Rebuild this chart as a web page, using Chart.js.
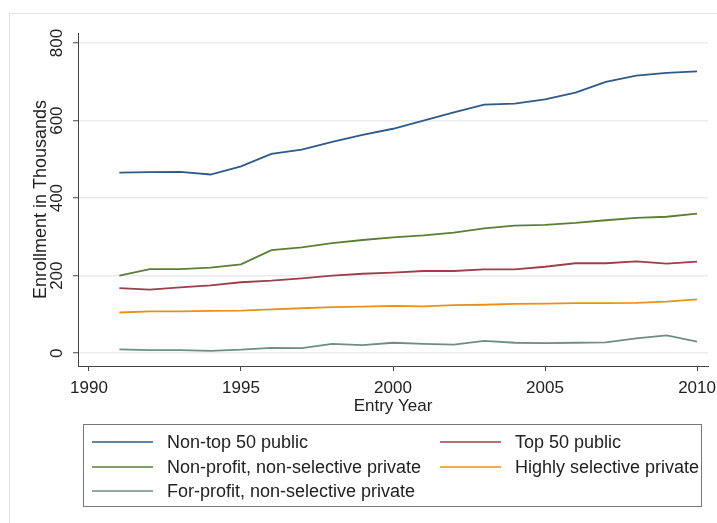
<!DOCTYPE html>
<html>
<head>
<meta charset="utf-8">
<script src="https://cdn.jsdelivr.net/npm/chart.js@4"></script>
<style>
  body { margin: 0; background: #fff; }
  #wrap { position: relative; width: 717px; height: 523px; }
  #legend {
    position: absolute; left: 83px; top: 424px; width: 617px; height: 81px;
    border: 1px solid #777; font-family: "Liberation Sans", Arial, sans-serif;
    font-size: 18px; color: #222;
  }
  .item { position: absolute; height: 22px; line-height: 22px; white-space: nowrap; }
  .item .swatch { position: absolute; top: 10px; width: 61px; height: 2px; }
  .item .label { position: absolute; }
</style>
</head>
<body>
<div id="wrap">
  <canvas id="grafico" width="717" height="523"></canvas>
  <div id="legend"></div>
</div>
<script>
const anos = [1991, 1992, 1993, 1994, 1995, 1996, 1997, 1998, 1999, 2000,
  2001, 2002, 2003, 2004, 2005, 2006, 2007, 2008, 2009, 2010];

const nonTop50Public = [466, 467, 468, 461, 482, 514, 525, 545, 563, 579,
  600, 621, 641, 644, 655, 672, 700, 716, 723, 727];
const top50Public = [168, 164, 170, 175, 183, 187, 193, 200, 205, 208,
  212, 212, 216, 216, 223, 232, 232, 237, 231, 236];
const nonProfitPrivate = [200, 217, 217, 221, 229, 266, 273, 284, 292, 299,
  304, 311, 322, 329, 331, 336, 343, 349, 352, 360];
const highlySelective = [105, 108, 108, 109, 110, 113, 116, 119, 120, 122,
  121, 124, 125, 127, 128, 129, 129, 130, 133, 139];
const forProfitPrivate = [10, 8, 8, 6, 9, 14, 13, 24, 21, 27,
  24, 22, 32, 27, 26, 27, 28, 38, 46, 30];

const nomesSeries = ["Non-top 50 public", "Top 50 public",
  "Non-profit, non-selective private", "Highly selective private",
  "For-profit, non-selective private"];
const coresSeries = ["#2d5a87", "#9b3f4a", "#5b7f35", "#e8901a", "#6e8e84"];
const ticksX = [1990, 1995, 2000, 2005, 2010];
const ticksY = [0, 200, 400, 600, 800];

const valores = [nonTop50Public, top50Public, nonProfitPrivate, highlySelective, forProfitPrivate];
const fonte = "'Liberation Sans', Arial, sans-serif";

const bordaExterna = {
  id: "bordaExterna",
  beforeDraw: (chart) => {
    const ctx = chart.ctx;
    ctx.save();
    ctx.strokeStyle = "#e4e4e4";
    ctx.lineWidth = 1;
    ctx.strokeRect(9.5, 13.5, 740, 540);
    ctx.restore();
  },
};

const gerarGrafico = () => {
  const ctx = document.getElementById("grafico").getContext("2d");
  new Chart(ctx, {
    type: "line",
    data: {
      datasets: valores.map((serie, i) => ({
        label: nomesSeries[i],
        data: serie.map((v, j) => ({ x: anos[j], y: v })),
        borderColor: coresSeries[i],
        borderWidth: 1.8,
        pointRadius: 0,
        tension: 0,
        fill: false,
      })),
    },
    options: {
      responsive: false,
      animation: false,
      devicePixelRatio: 1,
      layout: { padding: { left: 0, right: 9, top: 33, bottom: 97 } },
      plugins: { legend: { display: false }, tooltip: { enabled: false } },
      scales: {
        x: {
          type: "linear",
          min: 1989.64,
          max: 2010.36,
          afterBuildTicks: (axis) => { axis.ticks = ticksX.map((v) => ({ value: v })); },
          afterFit: (axis) => {
            axis.height = 60;
            axis.paddingLeft = 0;
            axis.paddingRight = 0;
          },
          grid: { drawOnChartArea: false, tickLength: 5, tickColor: "#444", tickWidth: 1 },
          border: { color: "#444", width: 1 },
          ticks: {
            color: "#222", padding: 7, maxRotation: 0,
            callback: (v) => String(v), font: { family: fonte, size: 17 },
          },
          title: {
            display: true, text: "Entry Year", color: "#222",
            padding: { top: 0, bottom: 9 }, font: { family: fonte, size: 17 },
          },
        },
        y: {
          min: -33,
          max: 826,
          afterBuildTicks: (axis) => { axis.ticks = ticksY.map((v) => ({ value: v })); },
          afterFit: (axis) => {
            axis.width = 78;
            axis.paddingTop = 0;
            axis.paddingBottom = 0;
          },
          grid: { color: "#ececec", lineWidth: 1.5, tickLength: 5, tickColor: "#444", tickWidth: 1 },
          border: { color: "#444", width: 1 },
          ticks: {
            color: "#222", padding: 2, minRotation: 90, maxRotation: 90,
            crossAlign: "center", font: { family: fonte, size: 17 },
          },
          title: {
            display: true, text: "Enrollment in Thousands", color: "#222",
            padding: { top: 30, bottom: 0 }, font: { family: fonte, size: 18 },
          },
        },
      },
    },
    plugins: [bordaExterna],
  });
};

const gerarLegenda = () => {
  const legenda = document.getElementById("legend");
  const linhas = [17, 42, 66];
  const colunas = [{ swatch: 8, label: 83 }, { swatch: 356, label: 431 }];
  nomesSeries.forEach((nome, i) => {
    const item = document.createElement("div");
    item.className = "item";
    item.style.top = (linhas[Math.floor(i / 2)] - 11) + "px";
    const col = colunas[i % 2];
    item.innerHTML =
      '<span class="swatch" style="left:' + col.swatch + "px;background:" + coresSeries[i] + ';opacity:0.75"></span>' +
      '<span class="label" style="left:' + col.label + 'px">' + nome + "</span>";
    legenda.appendChild(item);
  });
};

gerarGrafico();
gerarLegenda();
</script>
</body>
</html>
